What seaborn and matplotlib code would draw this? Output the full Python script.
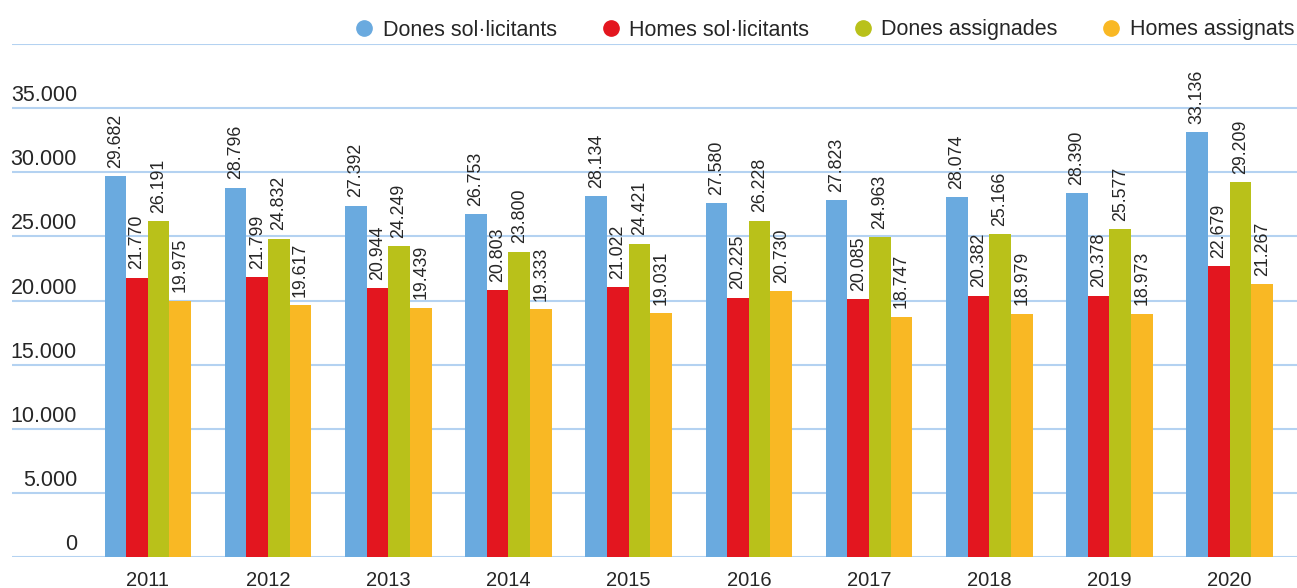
import pandas as pd
import matplotlib.pyplot as plt
import matplotlib.transforms as mtransforms
from matplotlib.lines import Line2D
import seaborn as sns

# === DATA ===
years = ["2011", "2012", "2013", "2014", "2015", "2016", "2017", "2018", "2019", "2020"]
series_names = ["Dones sol·licitants", "Homes sol·licitants", "Dones assignades", "Homes assignats"]
dones_sol = [29682, 28796, 27392, 26753, 28134, 27580, 27823, 28074, 28390, 33136]
homes_sol = [21770, 21799, 20944, 20803, 21022, 20225, 20085, 20382, 20378, 22679]
dones_asg = [26191, 24832, 24249, 23800, 24421, 26228, 24963, 25166, 25577, 29209]
homes_asg = [19975, 19617, 19439, 19333, 19031, 20730, 18747, 18979, 18973, 21267]
colors = ["#6aaadf", "#e3161f", "#b9c11a", "#f9b824"]
y_ticks = [0, 5000, 10000, 15000, 20000, 25000, 30000, 35000]

grid_color = "#b4d2f1"


def fmt(v):
    return f"{v:,}".replace(",", ".")


# === PLOT ===
sns.set_style("white")
plt.rcParams["font.family"] = ["Liberation Sans", "DejaVu Sans"]

rows = []
for name, vals in zip(series_names, [dones_sol, homes_sol, dones_asg, homes_asg]):
    for y, v in zip(years, vals):
        rows.append({"year": y, "serie": name, "valor": v})
df = pd.DataFrame(rows)

fig = plt.figure(figsize=(12.97, 5.88), dpi=100)
ax = fig.add_axes([12 / 1297, 31 / 588, 1 - 12 / 1297, (557 - 44) / 588])

sns.barplot(data=df, x="year", y="valor", hue="serie", order=years, hue_order=series_names,
            palette=colors, width=0.72, gap=0, saturation=1, legend=False, ax=ax,
            edgecolor="none", linewidth=0)

for cont in ax.containers:
    labels = [fmt(int(round(b.get_height()))) for b in cont]
    ax.bar_label(cont, labels=labels, rotation=90, padding=6, fontsize=12.8)

ax.set_ylim(0, 40000)
ax.set_xlim(-1.13, 9.56)
ax.set_yticks(y_ticks + [40000])
ax.set_yticklabels([])
ax.tick_params(axis="y", length=0)
ax.tick_params(axis="x", length=0, pad=10, labelsize=14.5)
ax.yaxis.grid(True, color=grid_color, linewidth=1.5)
ax.set_axisbelow(True)
ax.set_xlabel("")
ax.set_ylabel("")
for s in ax.spines.values():
    s.set_visible(False)

trans = mtransforms.blended_transform_factory(ax.transAxes, ax.transData)
for t in y_ticks:
    ax.annotate(fmt(t), xy=((77 - 12) / 1285, t), xycoords=trans, xytext=(0, 7),
                textcoords="offset pixels", ha="right", va="baseline", fontsize=15.5)

handles = [Line2D([], [], marker="o", linestyle="none", markersize=11,
                  markerfacecolor=c, markeredgecolor=c) for c in colors]
fig.legend(handles, series_names, loc="center right", bbox_to_anchor=(1294 / 1297, 1 - 30 / 588),
           ncol=4, frameon=False, fontsize=15.5, handlelength=0.8, handletextpad=0.45,
           columnspacing=2.1, borderaxespad=0, borderpad=0)

fig.savefig("out.png", dpi=100)
